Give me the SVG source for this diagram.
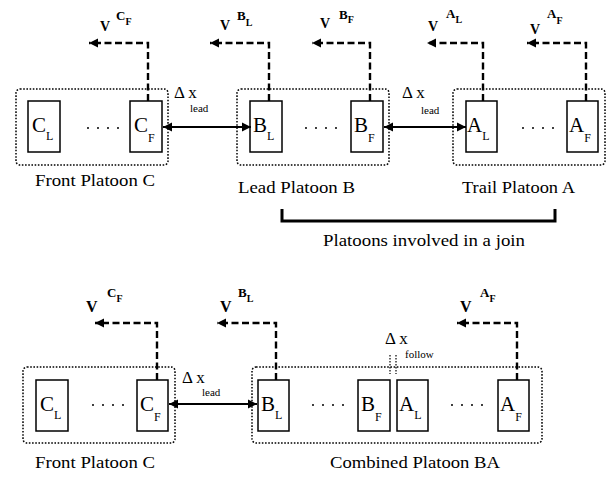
<svg xmlns="http://www.w3.org/2000/svg" width="612" height="482" viewBox="0 0 612 482">
<defs>
<marker id="ah" markerUnits="userSpaceOnUse" markerWidth="10" markerHeight="10" refX="9" refY="4.5" orient="auto-start-reverse" viewBox="0 0 10 9">
<path d="M0,0 L9,4.5 L0,9 z" fill="#000"/>
</marker>
</defs>
<style>
.plat{fill:none;stroke:#000;stroke-width:1.5;stroke-dasharray:1.6 1.6}
.veh{fill:#fff;stroke:#000;stroke-width:1.5}
.vt{font-family:"Liberation Serif",serif;font-size:21px;fill:#000}
.vs{font-size:12px}
.dash{fill:none;stroke:#000;stroke-width:2.4;stroke-dasharray:7 3.5}
.dots{fill:none;stroke:#000;stroke-width:2;stroke-linecap:round;stroke-dasharray:0 10}
.dbl{fill:none;stroke:#000;stroke-width:2}
.lbl{font-family:"Liberation Serif",serif;font-size:17px;fill:#000}
.vl{font-family:"Liberation Serif",serif;font-weight:bold;font-size:14px;fill:#000}
.vl2{font-family:"Liberation Serif",serif;font-weight:bold;font-size:16px;fill:#000}
.sup{font-family:"Liberation Serif",serif;font-weight:bold;font-size:13px;fill:#000}
.sub{font-size:10px}
.dx{font-family:"Liberation Serif",serif;font-size:17px;fill:#000}
.small{font-family:"Liberation Serif",serif;font-size:11px;fill:#000}
</style>

<!-- Top section -->
<g id="front-platoon-c-top">
<rect class="plat" x="16" y="89" width="152" height="76" rx="4"/>
<text class="lbl" x="35" y="186" textLength="120" lengthAdjust="spacingAndGlyphs">Front Platoon C</text>
</g>
<g id="lead-platoon-b-top">
<rect class="plat" x="237" y="89" width="152" height="76" rx="4"/>
<text class="lbl" x="238" y="193" textLength="117" lengthAdjust="spacingAndGlyphs">Lead Platoon B</text>
</g>
<g id="trail-platoon-a-top">
<rect class="plat" x="453" y="89" width="152" height="76" rx="4"/>
<text class="lbl" x="462" y="193" textLength="113" lengthAdjust="spacingAndGlyphs">Trail Platoon A</text>
</g>

<g id="veh-CL-top"><rect class="veh" x="28" y="101" width="32" height="51"/><text class="vt" x="32" y="132">C<tspan class="vs" dy="8">L</tspan></text></g>
<g id="veh-CF-top"><rect class="veh" x="130" y="101" width="32" height="51"/><text class="vt" x="134" y="132">C<tspan class="vs" dy="10">F</tspan></text></g>
<g id="veh-BL-top"><rect class="veh" x="250" y="101" width="32" height="51"/><text class="vt" x="253" y="132">B<tspan class="vs" dy="8">L</tspan></text></g>
<g id="veh-BF-top"><rect class="veh" x="351" y="101" width="32" height="51"/><text class="vt" x="354" y="132">B<tspan class="vs" dy="10">F</tspan></text></g>
<g id="veh-AL-top"><rect class="veh" x="466" y="101" width="31" height="51"/><text class="vt" x="467" y="132">A<tspan class="vs" dy="8">L</tspan></text></g>
<g id="veh-AF-top"><rect class="veh" x="567" y="101" width="31" height="51"/><text class="vt" x="569" y="132">A<tspan class="vs" dy="10">F</tspan></text></g>

<!-- Bottom section -->
<g id="front-platoon-c-bottom">
<rect class="plat" x="23" y="367" width="152" height="76" rx="4"/>
<text class="lbl" x="35" y="468" textLength="120" lengthAdjust="spacingAndGlyphs">Front Platoon C</text>
</g>
<g id="combined-platoon-ba">
<rect class="plat" x="252" y="367" width="290" height="76" rx="4"/>
<text class="lbl" x="330" y="468" textLength="170" lengthAdjust="spacingAndGlyphs">Combined Platoon BA</text>
</g>

<g id="veh-CL-bot"><rect class="veh" x="36" y="380" width="32" height="51"/><text class="vt" x="40" y="411">C<tspan class="vs" dy="8">L</tspan></text></g>
<g id="veh-CF-bot"><rect class="veh" x="137" y="380" width="31" height="51"/><text class="vt" x="140" y="411">C<tspan class="vs" dy="10">F</tspan></text></g>
<g id="veh-BL-bot"><rect class="veh" x="258" y="380" width="31" height="51"/><text class="vt" x="261" y="411">B<tspan class="vs" dy="8">L</tspan></text></g>
<g id="veh-BF-bot"><rect class="veh" x="358" y="380" width="32" height="51"/><text class="vt" x="361" y="411">B<tspan class="vs" dy="10">F</tspan></text></g>
<g id="veh-AL-bot"><rect class="veh" x="397" y="380" width="31" height="51"/><text class="vt" x="399" y="411">A<tspan class="vs" dy="8">L</tspan></text></g>
<g id="veh-AF-bot"><rect class="veh" x="498" y="380" width="31" height="51"/><text class="vt" x="500" y="411">A<tspan class="vs" dy="10">F</tspan></text></g>

<g id="connectors">
<!-- dots -->
<path class="dots" d="M88,128 H128 M306,128 H346 M523,128 H563 M93,405 H133 M313,405 H353 M452,405 H492"/>
<!-- velocity arrows top -->
<path class="dash" d="M148,101 V43 H89" marker-end="url(#ah)"/>
<path class="dash" d="M269,101 V43 H210" marker-end="url(#ah)"/>
<path class="dash" d="M370,101 V43 H312" marker-end="url(#ah)"/>
<path class="dash" d="M483,101 V43 H427" marker-end="url(#ah)"/>
<path class="dash" d="M586,101 V43 H527" marker-end="url(#ah)"/>
<!-- velocity arrows bottom -->
<path class="dash" d="M157,380 V323 H95" marker-end="url(#ah)"/>
<path class="dash" d="M276,380 V323 H217" marker-end="url(#ah)"/>
<path class="dash" d="M517,380 V323 H457" marker-end="url(#ah)"/>
<!-- spacing arrows -->
<path class="dbl" d="M163,127 H251" marker-start="url(#ah)" marker-end="url(#ah)"/>
<path class="dbl" d="M384,127 H466" marker-start="url(#ah)" marker-end="url(#ah)"/>
<path class="dbl" d="M169,404 H257" marker-start="url(#ah)" marker-end="url(#ah)"/>
<!-- follow gap marks -->
<path d="M390,355 V374 M396,355 V374" fill="none" stroke="#000" stroke-width="1.2" stroke-dasharray="1.5 1.5"/>
<!-- bracket -->
<path d="M282,209 V221 H555 V209" fill="none" stroke="#000" stroke-width="3"/>
</g>

<!-- velocity labels top -->
<text class="vl" x="100" y="31">V</text><text class="sup" x="116" y="20">C<tspan class="sub" dy="5">F</tspan></text>
<text class="vl" x="220" y="30">V</text><text class="sup" x="237" y="20">B<tspan class="sub" dy="6">L</tspan></text>
<text class="vl" x="320" y="28">V</text><text class="sup" x="339" y="19">B<tspan class="sub" dy="4">F</tspan></text>
<text class="vl" x="428" y="31">V</text><text class="sup" x="446" y="18">A<tspan class="sub" dy="5">L</tspan></text>
<text class="vl" x="530" y="34">V</text><text class="sup" x="547" y="18">A<tspan class="sub" dy="6">F</tspan></text>
<!-- velocity labels bottom -->
<text class="vl2" x="86" y="312">V</text><text class="sup" x="107" y="297">C<tspan class="sub" dy="5">F</tspan></text>
<text class="vl2" x="220" y="312">V</text><text class="sup" x="238" y="297">B<tspan class="sub" dy="5">L</tspan></text>
<text class="vl2" x="460" y="312">V</text><text class="sup" x="480" y="297">A<tspan class="sub" dy="5">F</tspan></text>

<!-- delta x labels -->
<text class="dx" x="174" y="98">Δ x</text><text class="small" x="190" y="112">lead</text>
<text class="dx" x="402" y="98">Δ x</text><text class="small" x="421" y="114">lead</text>
<text class="dx" x="182" y="383">Δ x</text><text class="small" x="202" y="396">lead</text>
<text class="dx" x="385" y="344">Δ x</text><text class="small" x="405" y="358">follow</text>

<text class="lbl" x="323" y="246" textLength="202" lengthAdjust="spacingAndGlyphs">Platoons involved in a join</text>
</svg>
